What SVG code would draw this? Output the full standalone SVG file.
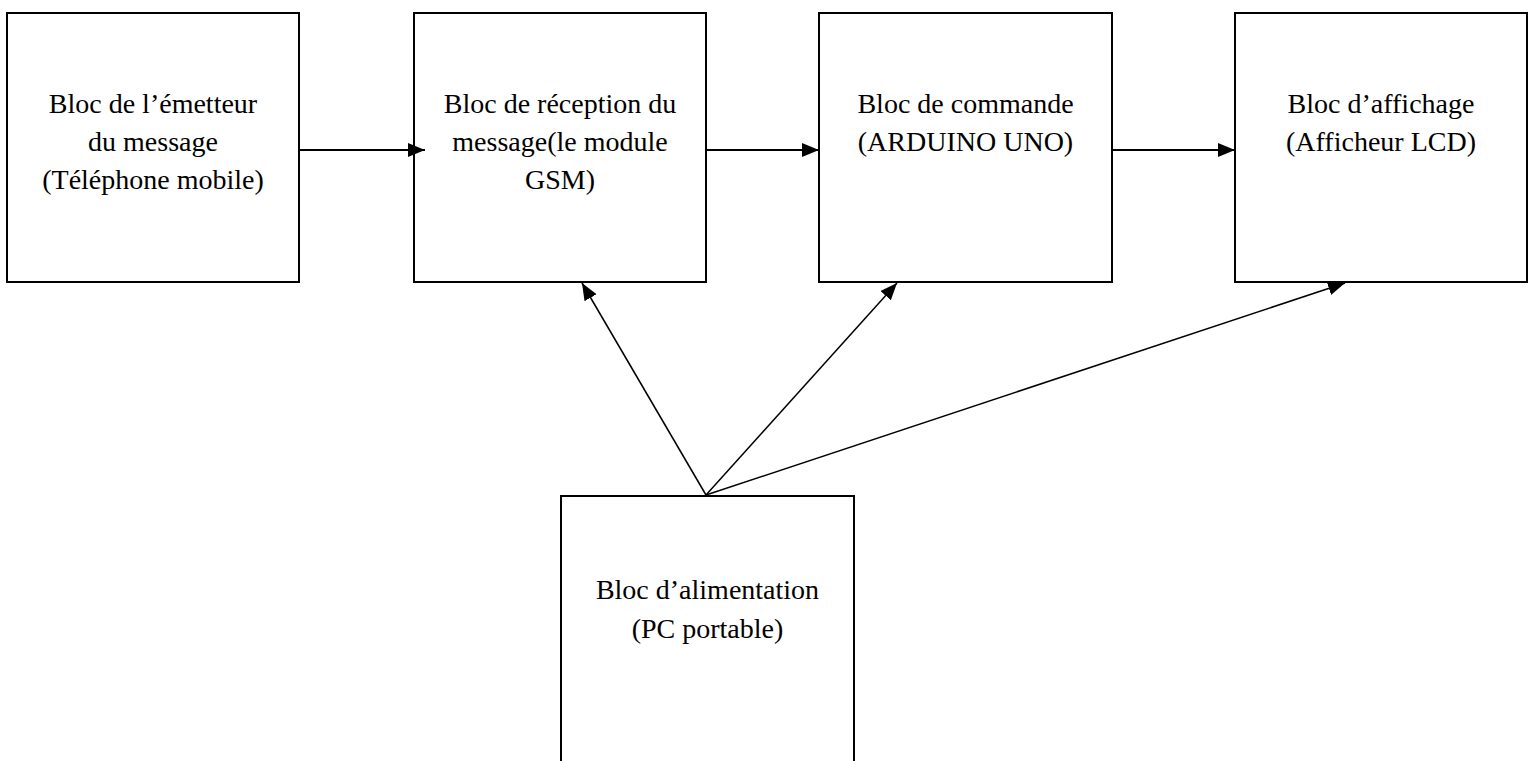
<svg xmlns="http://www.w3.org/2000/svg" width="1531" height="761" viewBox="0 0 1531 761">
<style>
.box{fill:#fff;stroke:#000;stroke-width:2}
.lbl{font-family:"Liberation Serif","Times New Roman",serif;font-size:28px;fill:#000;text-anchor:middle}
.h{stroke:#000;stroke-width:2.2;fill:none}
.d{stroke:#000;stroke-width:1.5;fill:none}
</style>
<defs>
<marker id="ah" markerUnits="userSpaceOnUse" markerWidth="18" markerHeight="16" refX="17" refY="7" orient="auto">
<path d="M0,0 L17,7 L0,14 z" fill="#000"/>
</marker>
</defs>
<rect width="1531" height="761" fill="#fff"/>
<g id="n1">
<rect class="box" x="7" y="13" width="292" height="269"/>
<text class="lbl" x="153" y="113">Bloc de l’émetteur</text>
<text class="lbl" x="153" y="151">du message</text>
<text class="lbl" x="153" y="189">(Téléphone mobile)</text>
</g>
<g id="n2">
<rect class="box" x="414" y="13" width="292" height="269"/>
<text class="lbl" x="560" y="113">Bloc de réception du</text>
<text class="lbl" x="560" y="151">message(le module</text>
<text class="lbl" x="560" y="189">GSM)</text>
</g>
<g id="n3">
<rect class="box" x="819" y="13" width="293" height="269"/>
<text class="lbl" x="965.5" y="113">Bloc de commande</text>
<text class="lbl" x="965.5" y="151">(ARDUINO UNO)</text>
</g>
<g id="n4">
<rect class="box" x="1235" y="13" width="292" height="269"/>
<text class="lbl" x="1381" y="113">Bloc d’affichage</text>
<text class="lbl" x="1381" y="151">(Afficheur LCD)</text>
</g>
<g id="n5">
<rect class="box" x="561" y="496" width="293" height="280"/>
<text class="lbl" x="707.5" y="599">Bloc d’alimentation</text>
<text class="lbl" x="707.5" y="638">(PC portable)</text>
</g>
<g id="connectors">
<line class="h" x1="299" y1="150" x2="425" y2="150" marker-end="url(#ah)"/>
<line class="h" x1="706" y1="150" x2="819" y2="150" marker-end="url(#ah)"/>
<line class="h" x1="1112" y1="150" x2="1235" y2="150" marker-end="url(#ah)"/>
<line class="d" x1="706" y1="495" x2="582" y2="283" marker-end="url(#ah)"/>
<line class="d" x1="706" y1="495" x2="897" y2="283" marker-end="url(#ah)"/>
<line class="d" x1="706" y1="495" x2="1345" y2="283" marker-end="url(#ah)"/>
</g>
</svg>
